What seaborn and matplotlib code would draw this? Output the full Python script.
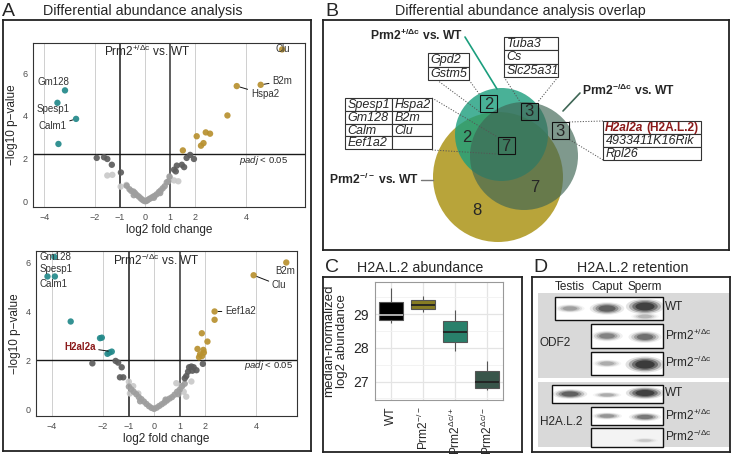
import numpy as np
import pandas as pd
import matplotlib.pyplot as plt
from matplotlib.patches import Rectangle, Circle, Ellipse
import seaborn as sns

# ---------------- data ----------------
# volcano 1: Prm2+/dc vs WT
v1_down_x = [-3.18, -3.48, -2.74, -3.44]
v1_down_y = [5.19, 4.61, 3.86, 2.69]
v1_up_x = [1.50, 2.05, 2.22, 2.32, 2.41, 2.58, 3.27, 3.64, 4.59, 5.44]
v1_up_y = [2.39, 3.05, 2.61, 2.73, 3.23, 3.17, 4.02, 5.39, 5.45, 7.10]
v1_dark_x = [-1.92, -1.63, -1.50, -1.32, -0.96, 1.15, 1.22, 1.26, 1.46, 1.55, 1.65, 1.79, 1.94]
v1_dark_y = [2.04, 2.07, 1.99, 1.72, 1.36, 1.49, 1.41, 1.68, 1.72, 1.61, 2.04, 2.18, 1.99]
v1_light_x = [-1.50, -1.30, -0.97, -0.74, 0.99, 1.15, 1.32]
v1_light_y = [1.22, 1.25, 0.70, 0.78, 1.10, 0.99, 0.95]
v1_mid_x = [-0.73, -0.62, -0.55, -0.46, -0.40, -0.33, -0.25, -0.18, -0.12, -0.06, 0.0, 0.05,
            0.10, 0.16, 0.22, 0.30, 0.38, 0.46, 0.55, 0.62, 0.70, 0.78, 0.86, 0.92, 0.97, 0.60,
            0.35, -0.45]
v1_mid_y = [0.74, 0.58, 0.50, 0.47, 0.40, 0.31, 0.24, 0.16, 0.10, 0.05, 0.02, 0.03,
            0.07, 0.12, 0.16, 0.22, 0.27, 0.34, 0.45, 0.52, 0.62, 0.72, 0.90, 0.94, 1.17, 0.40,
            0.18, 0.30]

# volcano 2: Prm2-/dc vs WT
v2_down_x = [-3.91, -4.18, -3.89, -3.27, -2.12, -2.05, -1.66, -1.83, -1.75]
v2_down_y = [6.23, 5.43, 5.43, 3.59, 2.91, 2.93, 2.36, 2.27, 2.32]
v2_up_x = [2.37, 2.37, 1.87, 2.09, 1.70, 1.93, 1.80, 1.88, 1.95, 1.76, 3.90, 5.18]
v2_up_y = [4.00, 3.66, 3.11, 2.77, 2.47, 2.43, 2.25, 2.18, 2.32, 2.13, 5.48, 6.00]
v2_dark_x = [-2.42, -1.51, -1.41, -1.27, -1.34, -1.21, 1.37, 1.46, 1.55, 1.50, 1.33, 1.26,
             1.20, 1.91, 1.66]
v2_dark_y = [1.88, 1.98, 1.91, 1.72, 1.31, 1.31, 1.72, 1.75, 1.72, 1.58, 1.54, 1.36,
             1.27, 1.86, 1.60]
v2_light_x = [-0.99, -0.82, -0.95, -0.62, 0.87, 1.16, 1.26, 1.46, 1.05]
v2_light_y = [1.13, 0.95, 0.65, 0.65, 1.07, 0.72, 0.52, 1.14, 0.95]
v2_mid_x = [-0.99, -0.90, -0.80, -0.70, -0.60, -0.50, -0.40, -0.30, -0.20, -0.10, 0.0, 0.10,
            0.20, 0.30, 0.40, 0.50, 0.60, 0.70, 0.80, 0.90, 1.00, 1.10, 1.20, -0.55, 0.45, 0.95]
v2_mid_y = [0.93, 0.82, 0.72, 0.62, 0.50, 0.42, 0.32, 0.22, 0.13, 0.06, 0.02, 0.07,
            0.14, 0.21, 0.28, 0.36, 0.44, 0.50, 0.60, 0.72, 0.80, 0.95, 1.05, 0.33, 0.40, 0.62]

# venn counts
venn_counts = {"t_only": 2, "t_o": 2, "t_g": 3, "g_only": 3, "all": 7, "o_g": 7, "o_only": 8}
genes_tg_only = ["Gpd2", "Gstm5"]
genes_all = [["Spesp1", "Hspa2"], ["Gm128", "B2m"], ["Calm", "Clu"], ["Eef1a2", ""]]
genes_tg = ["Tuba3", "Cs", "Slc25a31"]
genes_g_only = ["H2al2a", "4933411K16Rik", "Rpl26"]

# H2A.L.2 abundance box stats (min, q1, median, q3, max)
genotypes = ["WT", "Prm2-/-", "Prm2dc/+", "Prm2dc/-"]
box_wt = [28.74, 28.82, 28.97, 29.37, 29.77]
box_ko = [29.07, 29.15, 29.29, 29.42, 29.54]
box_dcp = [27.90, 28.17, 28.47, 28.79, 29.12]
box_dcm = [26.75, 26.81, 27.00, 27.32, 27.62]

# western blot band intensities (0..1)
band_lane = [0, 1, 2, 2, 1, 2, 1, 2, 0, 1, 2, 1, 2, 2]
band_row = [0, 0, 0, 0, 1, 1, 2, 2, 3, 3, 3, 4, 4, 5]
band_int = [0.35, 0.7, 0.95, 0.25, 0.5, 0.6, 0.3, 1.0, 0.7, 0.3, 0.95, 0.4, 0.55, 0.15]

# ---------------- style ----------------
W, H = 731, 455
sns.set_style("white")
plt.rcParams["font.family"] = ["Liberation Sans", "DejaVu Sans"]
plt.rcParams["mathtext.fontset"] = "custom"
plt.rcParams["mathtext.rm"] = "Liberation Sans"
plt.rcParams["mathtext.it"] = "Liberation Sans:italic"
plt.rcParams["mathtext.bf"] = "Liberation Sans:bold"

fig = plt.figure(figsize=(W / 100, H / 100), dpi=100)


def rect(x0, y0, x1, y1):
    return [x0 / W, 1 - y1 / H, (x1 - x0) / W, (y1 - y0) / H]


def ftext(x, y, s, **kw):
    fig.text(x / W, 1 - y / H, s, **kw)


def frame(ax):
    ax.set_xticks([])
    ax.set_yticks([])
    for sp in ax.spines.values():
        sp.set_color("#222222")
        sp.set_linewidth(1.3)


pal = {"light": "#c9c9c9", "mid": "#9e9e9e", "dark": "#5c5c5c",
       "down": "#23898a", "up": "#b8912f"}


def volcano(ax, dx, dy, ux, uy, kx, ky, lx, ly, mx, my, hline, xlim, ylim):
    df = pd.DataFrame({
        "lfc": lx + mx + kx + dx + ux,
        "p": ly + my + ky + dy + uy,
        "grp": ["light"] * len(lx) + ["mid"] * len(mx) + ["dark"] * len(kx)
               + ["down"] * len(dx) + ["up"] * len(ux),
    })
    for v in [-4, -2, 0, 2, 4]:
        ax.axvline(v, color="#c8c8c8", lw=0.6, zorder=0)
    ax.axvline(-1, color="#1a1a1a", lw=1.1, zorder=1)
    ax.axvline(1, color="#333333", lw=1.1, zorder=1)
    ax.axhline(hline, color="#1a1a1a", lw=1.0, zorder=1)
    sns.scatterplot(data=df, x="lfc", y="p", hue="grp", palette=pal, s=21,
                    linewidth=0, alpha=0.92, legend=False, ax=ax, zorder=3)
    ax.set_xlim(*xlim)
    ax.set_ylim(*ylim)
    ax.set_xticks([-4, -2, -1, 0, 1, 2, 4])
    ax.set_yticks([0, 2, 4, 6])
    ax.tick_params(length=2.5, width=0.8, color="#333333", labelsize=6.5,
                   labelcolor="#4d4d4d", pad=1.5)
    ax.set_xlabel("log2 fold change", fontsize=8.5, labelpad=2)
    ax.set_ylabel("\u2212log10 p\u2212value", fontsize=8.5, labelpad=3)
    for sp in ax.spines.values():
        sp.set_color("#333333")
        sp.set_linewidth(0.8)


def lab(ax, s, xy, xt, ha="left", color="#333333", line=True, **kw):
    ap = dict(arrowstyle="-", color="#111111", lw=0.7, shrinkA=0, shrinkB=2.5) if line else None
    ax.annotate(s, xy=xy, xytext=xt, ha=ha, va="center", fontsize=7, color=color,
                arrowprops=ap, zorder=5, **kw)


# ---------------- panel A ----------------
axA = fig.add_axes(rect(3, 20, 311, 451))
frame(axA)
ftext(2, 11, "A", fontsize=14, va="center", ha="left")
ftext(43, 11, "Differential abundance analysis", fontsize=10.3, va="center", ha="left")

ax1 = fig.add_axes(rect(33, 43, 305, 207))
volcano(ax1, v1_down_x, v1_down_y, v1_up_x, v1_up_y, v1_dark_x, v1_dark_y,
        v1_light_x, v1_light_y, v1_mid_x, v1_mid_y, 2.2, (-4.45, 6.35), (-0.25, 7.4))
ax1.text(0.1, 7.03, r"Prm2$^{\mathregular{+/\Delta c}}$ vs. WT", ha="center", va="center", fontsize=8.5)
ax1.text(5.67, 1.9, r"$\mathit{padj}$ < 0.05", ha="right", va="center", fontsize=6.8)
lab(ax1, "Gm128", (-3.18, 5.19), (-4.29, 5.57), line=False)
lab(ax1, "Spesp1", (-3.48, 4.61), (-4.29, 4.3), line=False)
lab(ax1, "Calm1", (-2.74, 3.86), (-3.12, 3.52), ha="right")
lab(ax1, "Hspa2", (3.64, 5.39), (4.2, 5.0))
lab(ax1, "B2m", (4.59, 5.45), (5.05, 5.62))
lab(ax1, "Clu", (5.44, 7.10), (5.18, 7.10), line=False)

ax2 = fig.add_axes(rect(36, 251, 297, 416))
volcano(ax2, v2_down_x, v2_down_y, v2_up_x, v2_up_y, v2_dark_x, v2_dark_y,
        v2_light_x, v2_light_y, v2_mid_x, v2_mid_y, 2.0, (-4.63, 5.6), (-0.27, 6.47))
ax2.text(0.1, 6.1, r"Prm2$^{\mathregular{-/\Delta c}}$ vs. WT", ha="center", va="center", fontsize=8.5)
ax2.text(5.45, 1.79, r"$\mathit{padj}$ < 0.05", ha="right", va="center", fontsize=6.8)
lab(ax2, "Gm128", (-3.91, 6.23), (-4.5, 6.24), line=False)
lab(ax2, "Spesp1", (-3.89, 5.43), (-4.5, 5.74), line=False)
lab(ax2, "Calm1", (-3.89, 5.43), (-4.5, 5.13), line=False)
lab(ax2, "H2al2a", (-1.66, 2.36), (-2.3, 2.55), ha="right", color="#8b1a1a", fontweight="bold")
lab(ax2, "Eef1a2", (2.37, 4.0), (2.78, 4.0))
lab(ax2, "B2m", (5.18, 6.0), (4.75, 5.64), line=False)
lab(ax2, "Clu", (3.90, 5.48), (4.62, 5.07))

# ---------------- panel B ----------------
axB = fig.add_axes(rect(323, 20, 729, 250))
axB.set_xlim(323, 729)
axB.set_ylim(250, 20)
frame(axB)
ftext(325, 11, "B", fontsize=14, va="center", ha="left")
ftext(395, 11, "Differential abundance analysis overlap", fontsize=10.3, va="center", ha="left")

axB.add_patch(Circle((498, 177), 65, fc="#b8a43a", ec="none", zorder=1))
axB.add_patch(Circle((501.5, 134.5), 46.5, fc="#1b9e7d", alpha=0.8, ec="none", zorder=2))
axB.add_patch(Circle((524, 156), 54, fc="#3f6655", alpha=0.667, ec="none", zorder=3))

num_xy = {"t_only": (488.5, 103.5), "t_o": (467, 137), "t_g": (529, 111),
          "g_only": (560, 130.5), "all": (506, 145.5), "o_g": (535, 187), "o_only": (477, 210)}
boxed = ["t_only", "t_g", "g_only", "all"]
for k, n in venn_counts.items():
    x, y = num_xy[k]
    axB.text(x, y + 0.5, str(n), ha="center", va="center", fontsize=12, zorder=6)
    if k in boxed:
        axB.add_patch(Rectangle((x - 8.5, y - 8.5), 17, 17, fc="none", ec="#111111",
                                lw=0.8, zorder=6))

dot = dict(color="#555555", lw=0.7, ls=(0, (1.2, 1.6)), zorder=5)
axB.plot([437, 480], [80, 112], **dot)
axB.plot([469, 480], [80, 95], **dot)
axB.plot([432, 497.5], [98, 137], **dot)
axB.plot([432, 497.5], [150, 154], **dot)
axB.plot([504, 520.5], [77, 102.5], **dot)
axB.plot([558, 537.5], [77, 102.5], **dot)
axB.plot([603, 568.5], [121, 122], **dot)
axB.plot([603, 568.5], [160, 139], **dot)

axB.plot([465, 497], [37, 89], color="#1b9e7d", lw=1.2, zorder=5)
axB.plot([580, 563], [93, 111], color="#3f6655", lw=1.2, zorder=5)
axB.plot([421, 433], [180, 180], color="#777777", lw=1.0, zorder=5)
axB.text(463, 35, r"Prm2$^{\mathbf{+/\Delta c}}$ vs. WT", ha="right", va="center",
         fontsize=8.7, fontweight="bold")
axB.text(582, 90, r"Prm2$^{\mathbf{-/\Delta c}}$ vs. WT", ha="left", va="center",
         fontsize=8.7, fontweight="bold")
axB.text(419, 179, r"Prm2$^{\mathbf{-/-}}$ vs. WT", ha="right", va="center",
         fontsize=8.7, fontweight="bold")


def table(ax, x0, x1, y0, rows, cols=1, split=None, rh=13.5, fs=9):
    xs = [x0, x1] if cols == 1 else [x0, split, x1]
    for i, row in enumerate(rows):
        cells = [row] if cols == 1 else row
        for j, c in enumerate(cells):
            ax.add_patch(Rectangle((xs[j], y0 + i * rh), xs[j + 1] - xs[j], rh, fc="white",
                                   ec="#333333", lw=0.8, zorder=6))
            if c:
                ax.text(xs[j] + 2.5, y0 + (i + 0.5) * rh + 0.5, c, ha="left", va="center",
                        fontsize=fs, style="italic", zorder=7)


table(axB, 428, 469, 53, genes_tg_only, rh=13.5)
table(axB, 345, 432, 98, genes_all, cols=2, split=392, rh=12.8)
table(axB, 504, 558, 37, genes_tg, rh=13.3)
table(axB, 603, 701, 121, [""] + genes_g_only[1:], rh=13)
axB.text(604.5, 128, genes_g_only[0], ha="left", va="center", fontsize=8.6, style="italic",
         fontweight="bold", color="#8b1a1a", zorder=7)
axB.text(646.5, 128, "(H2A.L.2)", ha="left", va="center", fontsize=8.6,
         fontweight="bold", color="#8b1a1a", zorder=7)

# ---------------- panel C ----------------
axCf = fig.add_axes(rect(323, 277, 522, 452))
frame(axCf)
ftext(325, 268, "C", fontsize=14, va="center", ha="left")
ftext(357, 268, "H2A.L.2 abundance", fontsize=10.3, va="center", ha="left")

axC = fig.add_axes(rect(375, 282, 503, 400))
dfC = pd.DataFrame({
    "genotype": np.repeat(genotypes, 5),
    "value": box_wt + box_ko + box_dcp + box_dcm,
})
box_pal = {"WT": "#000000", "Prm2-/-": "#988a12", "Prm2dc/+": "#1b8e72", "Prm2dc/-": "#335a4b"}
sns.boxplot(data=dfC, x="genotype", y="value", hue="genotype", order=genotypes,
            hue_order=genotypes, palette=box_pal, legend=False, width=0.78, showcaps=False,
            showfliers=False, linecolor="#555555", linewidth=0.8,
            medianprops=dict(color="#222222", linewidth=1.3), ax=axC)
for ln in axC.lines:
    yd = np.asarray(ln.get_ydata(), dtype=float)
    if len(yd) == 2 and np.allclose(yd, box_wt[2]):
        ln.set_color("#bdbdbd")
axC.set_ylim(26.45, 29.96)
axC.set_yticks([27, 28, 29])
axC.set_yticks([26.5, 27.5, 28.5, 29.5], minor=True)
axC.grid(True, which="major", color="#e4e4e4", lw=0.9)
axC.grid(True, which="minor", axis="y", color="#f1f1f1", lw=0.6)
axC.set_axisbelow(True)
axC.set_xticks(range(4))
axC.set_xticklabels(["WT", r"Prm2$^{\mathregular{-/-}}$", r"Prm2$^{\mathregular{\Delta c/+}}$",
                     r"Prm2$^{\mathregular{\Delta c/-}}$"], rotation=90, fontsize=8.6)
axC.tick_params(axis="y", labelsize=10, length=2.5, color="#333333", pad=2)
axC.tick_params(axis="x", length=2.5, color="#333333", pad=2)
axC.tick_params(which="minor", length=0)
axC.set_xlabel("")
axC.set_ylabel("median-normalized\nlog2 abundance", fontsize=9.5, labelpad=4, linespacing=1.0)
for sp in axC.spines.values():
    sp.set_color("#999999")
    sp.set_linewidth(0.8)

# ---------------- panel D ----------------
axD = fig.add_axes(rect(532, 277, 730, 452))
axD.set_xlim(532, 730)
axD.set_ylim(452, 277)
frame(axD)
ftext(533, 268, "D", fontsize=14, va="center", ha="left")
ftext(577, 268, "H2A.L.2 retention", fontsize=10.3, va="center", ha="left")

lane_x = [570, 607, 645]
for x, s in zip(lane_x, ["Testis", "Caput", "Sperm"]):
    axD.text(x, 287, s, ha="center", va="center", fontsize=8.5)
axD.add_patch(Rectangle((538, 293), 192, 85, fc="#d9d9d9", ec="none", zorder=1))
axD.add_patch(Rectangle((538, 382), 192, 65, fc="#d9d9d9", ec="none", zorder=1))
blot_x0 = [555, 591, 591, 552, 591, 591]
blot_y0 = [297, 324, 352, 385, 407, 428]
blot_y1 = [320, 348, 375, 403, 425, 447]
blot_lab = ["WT", r"Prm2$^{\mathregular{+/\Delta c}}$", r"Prm2$^{\mathregular{-/\Delta c}}$"] * 2
for i in range(6):
    fc = "#f3f3f3" if i == 5 else "white"
    axD.add_patch(Rectangle((blot_x0[i], blot_y0[i]), 663 - blot_x0[i], blot_y1[i] - blot_y0[i],
                            fc=fc, ec="#111111", lw=1.0, zorder=2))
    axD.text(665, (blot_y0[i] + blot_y1[i]) / 2 - 1, blot_lab[i], ha="left", va="center",
             fontsize=8.5, zorder=4)
axD.text(540, 343, "ODF2", ha="left", va="center", fontsize=8.5)
axD.text(540, 422, "H2A.L.2", ha="left", va="center", fontsize=8.5)

band_dy = [0, 0, -2, 8, 0, 1, 0, 1, 0, 1, -1, 0, 1, 3]
for ln_, rw, it, dy in zip(band_lane, band_row, band_int, band_dy):
    cy = (blot_y0[rw] + blot_y1[rw]) / 2 + dy
    bw = 16 + 10 * it
    bh = (blot_y1[rw] - blot_y0[rw]) * (0.12 + 0.35 * it)
    for k, sc in enumerate([1.5, 1.25, 1.0, 0.75]):
        axD.add_patch(Ellipse((lane_x[ln_], cy), bw * sc, bh * sc, fc="#111111",
                              alpha=it * (0.12 + 0.14 * k), ec="none", zorder=3))

fig.savefig("out.png", dpi=100)
